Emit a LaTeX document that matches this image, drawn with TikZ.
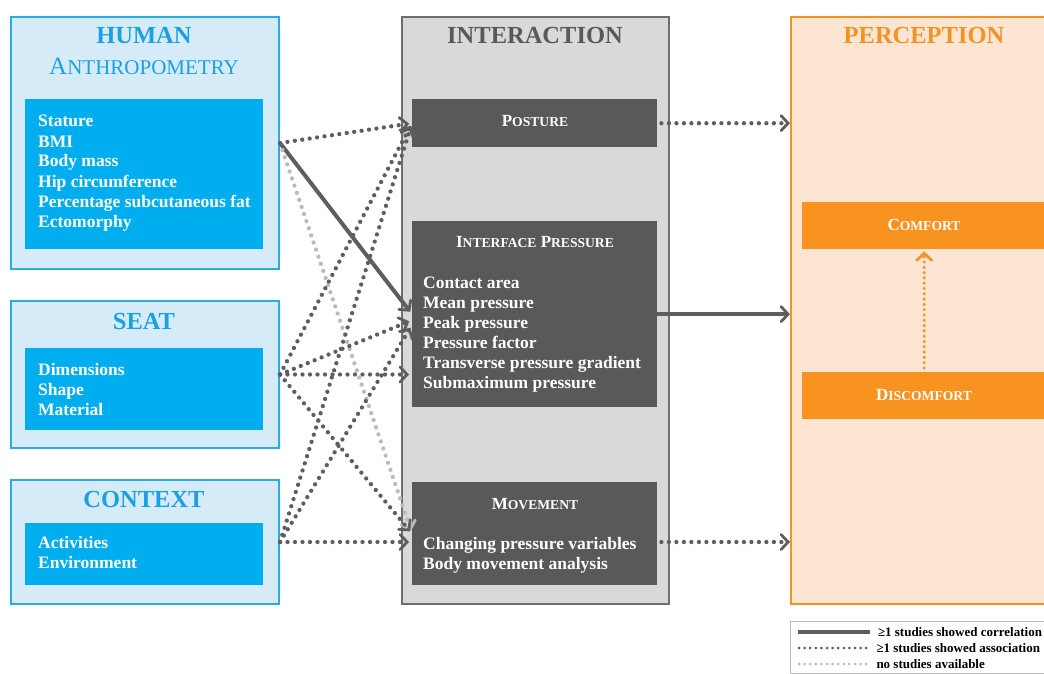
\documentclass[tikz,border=0pt]{standalone}
\usepackage{fontspec}
\setmainfont{Liberation Serif}
\usetikzlibrary{arrows.meta,positioning}
\definecolor{bluetxt}{HTML}{1BA1E2}
\definecolor{blueline}{HTML}{2AACE3}
\definecolor{bluefill}{HTML}{D5ECF8}
\definecolor{bluebox}{HTML}{00AEEF}
\definecolor{greyfill}{HTML}{D9D9D9}
\definecolor{greyline}{HTML}{6E6E6E}
\definecolor{greybox}{HTML}{595959}
\definecolor{greyarrow}{HTML}{5E5E5E}
\definecolor{greylight}{HTML}{BBBBBB}
\definecolor{orangetxt}{HTML}{F39323}
\definecolor{orangefill}{HTML}{FCE6D3}
\definecolor{orangebox}{HTML}{F7931E}
\newcommand{\itemfont}{\fontsize{17.5}{20}\selectfont\bfseries}
\newcommand{\headfont}{\fontsize{24.5}{28}\selectfont\bfseries}
\newcommand{\subfont}{\fontsize{17}{19}\selectfont\bfseries}
\newcommand{\legfont}{\fontsize{13}{14}\selectfont\bfseries}
\newcommand{\fakesc}[2]{#1\scalebox{0.8}{#2}}

\begin{document}
\begin{tikzpicture}[x=1pt,y=-1pt,
    panel/.style={draw,line width=2pt,anchor=north west,inner sep=0pt},
    filled/.style={anchor=north west,inner sep=0pt},
    headline/.style={anchor=base,font=\headfont},
    item/.style={anchor=base west,inner sep=0pt,text=white,font=\itemfont},
    tip/.style={-{Straight Barb[length=7pt,width=15pt,line width=2.8pt,line cap=round]}},
    corr/.style={draw=greyarrow,line width=4pt,tip},
    assoc/.style={draw=greyarrow,line width=4.3pt,line cap=round,dash pattern=on 0pt off 7.5pt,tip},
    nodata/.style={assoc,draw=greylight}]
  \useasboundingbox (0,0) rectangle (1044,674);
  \clip (0,0) rectangle (1044,674);

  % left column
  \node[panel,draw=blueline,fill=bluefill,minimum width=268pt,minimum height=252pt] (human) at (10,16) {};
  \node[panel,draw=blueline,fill=bluefill,minimum width=268pt,minimum height=147pt] (seat) at (10,300) {};
  \node[panel,draw=blueline,fill=bluefill,minimum width=268pt,minimum height=124pt] (context) at (10,479) {};
  \node[filled,fill=bluebox,minimum width=238pt,minimum height=150pt] (humanlist) at (25,99) {};
  \node[filled,fill=bluebox,minimum width=238pt,minimum height=82pt] (seatlist) at (25,348) {};
  \node[filled,fill=bluebox,minimum width=238pt,minimum height=62pt] (contextlist) at (25,523) {};
  \node[headline,text=bluetxt] (humanhead) at (144,44) {HUMAN};
  \node[headline,text=bluetxt,font=\fontsize{25}{28}\selectfont] (anthro) at (144,75) {\fakesc{A}{\scalebox{1.05}{NTHROPOMETRY}}};
  \node[headline,text=bluetxt] (seathead) at (144,329) {SEAT};
  \node[headline,text=bluetxt] (contexthead) at (144,507) {CONTEXT};
  \foreach \t [count=\i] in {Stature,BMI,Body mass,Hip circumference,Percentage subcutaneous fat,Ectomorphy}
    \node[item] (human-\i) at (38,107+20*\i) {\t};
  \foreach \t [count=\i] in {Dimensions,Shape,Material}
    \node[item] (seat-\i) at (38,355+20*\i) {\t};
  \foreach \t [count=\i] in {Activities,Environment}
    \node[item] (context-\i) at (38,528+20*\i) {\t};

  % interaction
  \node[panel,draw=greyline,fill=greyfill,minimum width=267pt,minimum height=587pt] (inter) at (401,16) {};
  \node[headline,text=greybox] (interhead) at (535,44) {INTERACTION};
  \node[filled,fill=greybox,minimum width=245pt,minimum height=48pt] (posture) at (412,99) {};
  \node[filled,fill=greybox,minimum width=245pt,minimum height=186pt] (ip) at (412,221) {};
  \node[filled,fill=greybox,minimum width=245pt,minimum height=103pt] (movement) at (412,482) {};
  \node[headline,text=white,font=\subfont] (posturehead) at (535,127) {\fakesc{P}{OSTURE}};
  \node[headline,text=white,font=\subfont] (iphead) at (535,247) {\fakesc{I}{NTERFACE} \fakesc{P}{RESSURE}};
  \node[headline,text=white,font=\subfont] (movementhead) at (535,509) {\fakesc{M}{OVEMENT}};
  \foreach \t [count=\i] in {Contact area,Mean pressure,Peak pressure,Pressure factor,Transverse pressure gradient,Submaximum pressure}
    \node[item] (ip-\i) at (423,268+20*\i) {\t};
  \foreach \t [count=\i] in {Changing pressure variables,Body movement analysis}
    \node[item] (movement-\i) at (423,529+20*\i) {\t};

  % perception
  \node[panel,draw=orangetxt,fill=orangefill,minimum width=268pt,minimum height=587pt] (percep) at (790,16) {};
  \node[headline,text=orangetxt] (percephead) at (924,44) {PERCEPTION};
  \node[filled,fill=orangebox,minimum width=244pt,minimum height=47pt] (comfort) at (802,202) {};
  \node[filled,fill=orangebox,minimum width=244pt,minimum height=47pt] (discomfort) at (802,372) {};
  \node[headline,text=white,font=\subfont] (comforthead) at (924,230) {\fakesc{C}{OMFORT}};
  \node[headline,text=white,font=\subfont] (discomforthead) at (924,400) {\fakesc{D}{ISCOMFORT}};

  % connectors
  \draw[corr,shorten >=3pt] (human.east) -- (ip.west);
  \draw[nodata,shorten >=3pt] (human.east) -- (movement.west);
  \foreach \s in {human,seat,context}
    \draw[assoc,shorten >=3pt] (\s.east) -- (posture.west);
  \draw[assoc,shorten >=3pt] (seat.east) -- ([shift={(0,6)}]ip.west);
  \draw[assoc,shorten >=3pt] (context.east) -- ([shift={(0,11)}]ip.west);
  \draw[assoc,shorten >=3pt] (seat.east) -- (ip.west |- seat.east);
  \draw[assoc,shorten >=3pt] (seat.east) -- (movement.west);
  \draw[assoc,shorten >=3pt] (context.east) -- (movement.west |- context.east);
  \draw[assoc,shorten <=4pt] (posture.east) -- (percep.west |- posture.east);
  \draw[corr] (ip.east) -- (percep.west |- ip.east);
  \draw[assoc,shorten <=4pt] (movement.east |- context.east) -- (percep.west |- context.east);
  \draw[assoc,draw=orangebox,line width=3.4pt,dash pattern=on 0pt off 5.3pt,shorten <=4pt,shorten >=2pt] (discomfort.north) -- (comfort.south);

  % legend
  \node[filled,draw=greylight,line width=0.8pt,minimum width=270pt,minimum height=52pt] (legend) at (790,621) {};
  \coordinate (lg) at (798,632);
  \draw[draw=greyarrow,line width=4pt] (lg) -- ++(72,0) node[right=6pt,text=black,font=\legfont,inner sep=0pt] (lgcorr) {≥1 studies showed correlation};
  \draw[draw=greyarrow,line width=3pt,line cap=round,dash pattern=on 0pt off 5.6pt] ([shift={(1,16)}]lg) -- ++(70,0) node[right=6pt,text=black,font=\legfont,inner sep=0pt] (lgassoc) {≥1 studies showed association};
  \draw[draw=greylight,line width=3pt,line cap=round,dash pattern=on 0pt off 5.6pt] ([shift={(1,32)}]lg) -- ++(70,0) node[right=6pt,text=black,font=\legfont,inner sep=0pt] (lgnone) {no studies available};
\end{tikzpicture}
\end{document}
